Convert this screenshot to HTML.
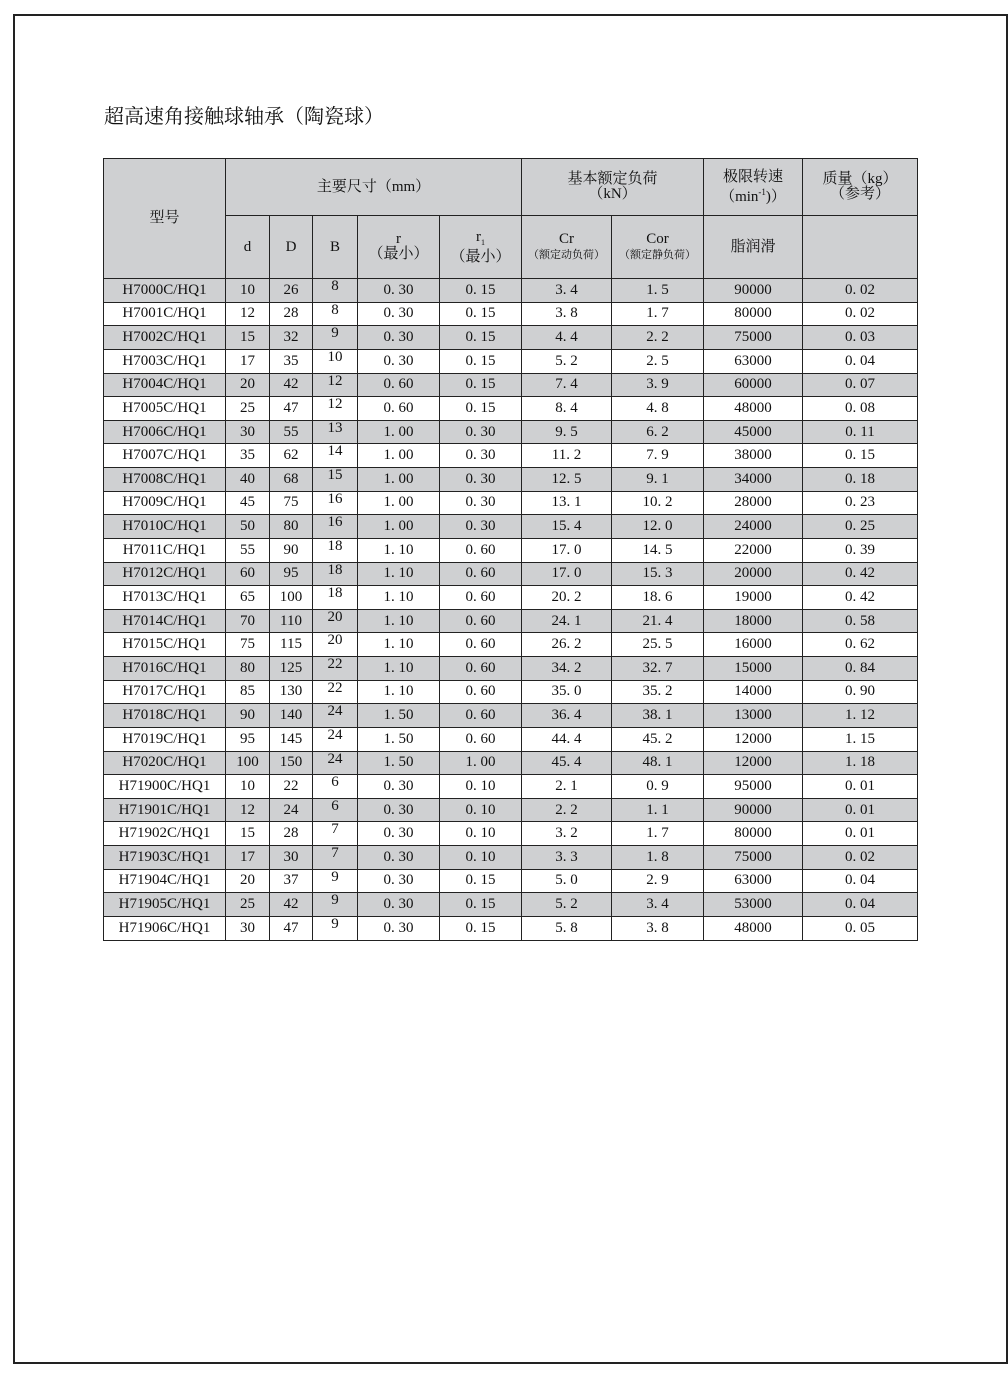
<!DOCTYPE html>
<html><head><meta charset="utf-8"><style>
body{margin:0;width:1008px;height:1376px;background:#fff;position:relative;font-family:"Liberation Serif","Noto Serif CJK SC",serif;color:#111;}
.frame{position:absolute;left:13px;top:14px;width:991px;height:1346px;border:2px solid #222;}
.title{position:absolute;left:104px;top:100px;font-size:20px;font-family:"Noto Serif CJK SC","Liberation Serif",serif;}
table{position:absolute;left:103px;top:158px;border-collapse:collapse;table-layout:fixed;}
td{border:1px solid #222;text-align:center;padding:0;font-size:15px;line-height:15px;overflow:hidden;}
.h td{background:#cfd0d2;}
.g td{background:#cfd0d2;}
tr.d td{height:22.64px;}
.s{font-size:11px;}
.b{vertical-align:top;padding-top:0px;}
</style></head><body>
<div class="frame"></div>
<div class="title">超高速角接触球轴承（陶瓷球）</div>
<table>
<colgroup><col style="width:122px"><col style="width:44px"><col style="width:43px"><col style="width:45px"><col style="width:82px"><col style="width:82px"><col style="width:90px"><col style="width:92px"><col style="width:99px"><col style="width:115px"></colgroup>
<tr class="h" style="height:57px"><td rowspan="2">型号</td><td colspan="5">主要尺寸（mm）</td><td colspan="2">基本额定负荷<br>（kN）</td><td>极限转速<br>（min<sup style="font-size:9px">-1</sup>)）</td><td>质量（kg）<br>（参考）</td></tr>
<tr class="h" style="height:63px"><td>d</td><td>D</td><td>B</td><td>r<br>（最小）</td><td>r<sub style="font-size:8px">1</sub><br>（最小）</td><td>Cr<br><span class="s">（额定动负荷）</span></td><td>Cor<br><span class="s">（额定静负荷）</span></td><td>脂润滑</td><td></td></tr>
<tr class="d g"><td>H7000C/HQ1</td><td>10</td><td>26</td><td class="b">8</td><td>0. 30</td><td>0. 15</td><td>3. 4</td><td>1. 5</td><td>90000</td><td>0. 02</td></tr>
<tr class="d"><td>H7001C/HQ1</td><td>12</td><td>28</td><td class="b">8</td><td>0. 30</td><td>0. 15</td><td>3. 8</td><td>1. 7</td><td>80000</td><td>0. 02</td></tr>
<tr class="d g"><td>H7002C/HQ1</td><td>15</td><td>32</td><td class="b">9</td><td>0. 30</td><td>0. 15</td><td>4. 4</td><td>2. 2</td><td>75000</td><td>0. 03</td></tr>
<tr class="d"><td>H7003C/HQ1</td><td>17</td><td>35</td><td class="b">10</td><td>0. 30</td><td>0. 15</td><td>5. 2</td><td>2. 5</td><td>63000</td><td>0. 04</td></tr>
<tr class="d g"><td>H7004C/HQ1</td><td>20</td><td>42</td><td class="b">12</td><td>0. 60</td><td>0. 15</td><td>7. 4</td><td>3. 9</td><td>60000</td><td>0. 07</td></tr>
<tr class="d"><td>H7005C/HQ1</td><td>25</td><td>47</td><td class="b">12</td><td>0. 60</td><td>0. 15</td><td>8. 4</td><td>4. 8</td><td>48000</td><td>0. 08</td></tr>
<tr class="d g"><td>H7006C/HQ1</td><td>30</td><td>55</td><td class="b">13</td><td>1. 00</td><td>0. 30</td><td>9. 5</td><td>6. 2</td><td>45000</td><td>0. 11</td></tr>
<tr class="d"><td>H7007C/HQ1</td><td>35</td><td>62</td><td class="b">14</td><td>1. 00</td><td>0. 30</td><td>11. 2</td><td>7. 9</td><td>38000</td><td>0. 15</td></tr>
<tr class="d g"><td>H7008C/HQ1</td><td>40</td><td>68</td><td class="b">15</td><td>1. 00</td><td>0. 30</td><td>12. 5</td><td>9. 1</td><td>34000</td><td>0. 18</td></tr>
<tr class="d"><td>H7009C/HQ1</td><td>45</td><td>75</td><td class="b">16</td><td>1. 00</td><td>0. 30</td><td>13. 1</td><td>10. 2</td><td>28000</td><td>0. 23</td></tr>
<tr class="d g"><td>H7010C/HQ1</td><td>50</td><td>80</td><td class="b">16</td><td>1. 00</td><td>0. 30</td><td>15. 4</td><td>12. 0</td><td>24000</td><td>0. 25</td></tr>
<tr class="d"><td>H7011C/HQ1</td><td>55</td><td>90</td><td class="b">18</td><td>1. 10</td><td>0. 60</td><td>17. 0</td><td>14. 5</td><td>22000</td><td>0. 39</td></tr>
<tr class="d g"><td>H7012C/HQ1</td><td>60</td><td>95</td><td class="b">18</td><td>1. 10</td><td>0. 60</td><td>17. 0</td><td>15. 3</td><td>20000</td><td>0. 42</td></tr>
<tr class="d"><td>H7013C/HQ1</td><td>65</td><td>100</td><td class="b">18</td><td>1. 10</td><td>0. 60</td><td>20. 2</td><td>18. 6</td><td>19000</td><td>0. 42</td></tr>
<tr class="d g"><td>H7014C/HQ1</td><td>70</td><td>110</td><td class="b">20</td><td>1. 10</td><td>0. 60</td><td>24. 1</td><td>21. 4</td><td>18000</td><td>0. 58</td></tr>
<tr class="d"><td>H7015C/HQ1</td><td>75</td><td>115</td><td class="b">20</td><td>1. 10</td><td>0. 60</td><td>26. 2</td><td>25. 5</td><td>16000</td><td>0. 62</td></tr>
<tr class="d g"><td>H7016C/HQ1</td><td>80</td><td>125</td><td class="b">22</td><td>1. 10</td><td>0. 60</td><td>34. 2</td><td>32. 7</td><td>15000</td><td>0. 84</td></tr>
<tr class="d"><td>H7017C/HQ1</td><td>85</td><td>130</td><td class="b">22</td><td>1. 10</td><td>0. 60</td><td>35. 0</td><td>35. 2</td><td>14000</td><td>0. 90</td></tr>
<tr class="d g"><td>H7018C/HQ1</td><td>90</td><td>140</td><td class="b">24</td><td>1. 50</td><td>0. 60</td><td>36. 4</td><td>38. 1</td><td>13000</td><td>1. 12</td></tr>
<tr class="d"><td>H7019C/HQ1</td><td>95</td><td>145</td><td class="b">24</td><td>1. 50</td><td>0. 60</td><td>44. 4</td><td>45. 2</td><td>12000</td><td>1. 15</td></tr>
<tr class="d g"><td>H7020C/HQ1</td><td>100</td><td>150</td><td class="b">24</td><td>1. 50</td><td>1. 00</td><td>45. 4</td><td>48. 1</td><td>12000</td><td>1. 18</td></tr>
<tr class="d"><td>H71900C/HQ1</td><td>10</td><td>22</td><td class="b">6</td><td>0. 30</td><td>0. 10</td><td>2. 1</td><td>0. 9</td><td>95000</td><td>0. 01</td></tr>
<tr class="d g"><td>H71901C/HQ1</td><td>12</td><td>24</td><td class="b">6</td><td>0. 30</td><td>0. 10</td><td>2. 2</td><td>1. 1</td><td>90000</td><td>0. 01</td></tr>
<tr class="d"><td>H71902C/HQ1</td><td>15</td><td>28</td><td class="b">7</td><td>0. 30</td><td>0. 10</td><td>3. 2</td><td>1. 7</td><td>80000</td><td>0. 01</td></tr>
<tr class="d g"><td>H71903C/HQ1</td><td>17</td><td>30</td><td class="b">7</td><td>0. 30</td><td>0. 10</td><td>3. 3</td><td>1. 8</td><td>75000</td><td>0. 02</td></tr>
<tr class="d"><td>H71904C/HQ1</td><td>20</td><td>37</td><td class="b">9</td><td>0. 30</td><td>0. 15</td><td>5. 0</td><td>2. 9</td><td>63000</td><td>0. 04</td></tr>
<tr class="d g"><td>H71905C/HQ1</td><td>25</td><td>42</td><td class="b">9</td><td>0. 30</td><td>0. 15</td><td>5. 2</td><td>3. 4</td><td>53000</td><td>0. 04</td></tr>
<tr class="d"><td>H71906C/HQ1</td><td>30</td><td>47</td><td class="b">9</td><td>0. 30</td><td>0. 15</td><td>5. 8</td><td>3. 8</td><td>48000</td><td>0. 05</td></tr>
</table>
</body></html>
